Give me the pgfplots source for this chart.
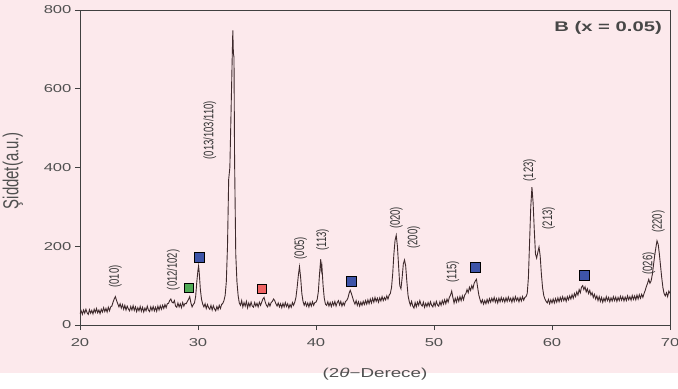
\documentclass[border=0pt]{standalone}
\usepackage{pgfplots}
\pgfplotsset{compat=1.18}
\usepackage{fontspec}
\setmainfont{Liberation Sans}
\setsansfont{Liberation Sans}
\definecolor{trace}{RGB}{62,42,44}
\definecolor{txt}{RGB}{80,80,80}
\definecolor{pinkbg}{RGB}{252,233,236}
\definecolor{sqblue}{RGB}{62,84,168}
\definecolor{sqgreen}{RGB}{80,170,85}
\definecolor{sqred}{RGB}{240,100,100}
\newcommand{\hs}[1]{\scalebox{1.45}[1]{#1}}
\newcommand{\vs}[1]{\scalebox{1}[1.45]{#1}}
\pgfplotstableread{
x y
20.0 28
20.1 36
20.2 27
20.3 38
20.4 30
20.5 40
20.6 31
20.7 27
20.8 39
20.9 30
21.0 37
21.1 28
21.2 40
21.3 32
21.4 42
21.5 31
21.6 38
21.7 29
21.8 40
21.9 33
22.0 44
22.1 34
22.2 42
22.3 33
22.4 45
22.5 36
22.6 46
22.7 48
22.8 58
22.9 66
23.0 72
23.1 62
23.2 54
23.3 46
23.4 54
23.5 43
23.6 52
23.7 40
23.8 50
23.9 38
24.0 48
24.1 41
24.2 36
24.3 47
24.4 38
24.5 49
24.6 37
24.7 46
24.8 34
24.9 44
25.0 36
25.1 47
25.2 35
25.3 45
25.4 33
25.5 43
25.6 36
25.7 48
25.8 38
25.9 34
26.0 46
26.1 37
26.2 47
26.3 36
26.4 45
26.5 35
26.6 48
26.7 38
26.8 49
26.9 40
27.0 50
27.1 42
27.2 52
27.3 44
27.4 54
27.5 55
27.6 62
27.7 66
27.8 58
27.9 56
28.0 62
28.1 48
28.2 45
28.3 56
28.4 46
28.5 54
28.6 44
28.7 57
28.8 48
28.9 55
29.0 54
29.1 60
29.2 65
29.3 72
29.4 56
29.5 46
29.6 52
29.7 56
29.8 72
29.9 110
30.0 140
30.05 150
30.1 135
30.2 90
30.3 65
30.4 53
30.5 46
30.6 54
30.7 42
30.8 52
30.9 44
31.0 40
31.1 50
31.2 38
31.3 49
31.4 41
31.5 36
31.6 47
31.7 39
31.8 50
31.9 42
32.0 52
32.1 55
32.2 62
32.3 75
32.4 110
32.5 200
32.6 370
32.7 400
32.8 540
32.9 680
32.95 748
33.0 690
33.05 680
33.1 420
33.15 300
33.2 180
33.3 110
33.4 75
33.5 56
33.6 50
33.7 62
33.8 46
33.9 57
34.0 48
34.1 60
34.2 44
34.3 56
34.4 47
34.5 58
34.6 48
34.7 45
34.8 57
34.9 48
35.0 55
35.1 46
35.2 58
35.3 50
35.4 58
35.5 66
35.6 70
35.7 58
35.8 50
35.9 46
36.0 56
36.1 48
36.2 57
36.3 60
36.4 66
36.5 62
36.6 54
36.7 48
36.8 56
36.9 46
37.0 54
37.1 44
37.2 55
37.3 46
37.4 57
37.5 47
37.6 54
37.7 43
37.8 52
37.9 45
38.0 57
38.1 50
38.2 58
38.3 70
38.4 95
38.5 125
38.6 148
38.7 120
38.8 80
38.9 60
39.0 50
39.1 58
39.2 48
39.3 56
39.4 46
39.5 57
39.6 48
39.7 59
39.8 50
39.9 57
40.0 58
40.1 65
40.2 85
40.3 130
40.4 167
40.45 140
40.5 150
40.6 100
40.7 68
40.8 53
40.9 50
41.0 59
41.1 48
41.2 57
41.3 47
41.4 58
41.5 50
41.6 60
41.7 48
41.8 57
41.9 62
42.0 51
42.1 60
42.2 48
42.3 57
42.4 50
42.5 60
42.6 62
42.7 68
42.8 80
42.9 88
43.0 80
43.1 70
43.2 60
43.3 53
43.4 62
43.5 50
43.6 59
43.7 48
43.8 58
43.9 50
44.0 60
44.1 52
44.2 62
44.3 53
44.4 64
44.5 54
44.6 66
44.7 56
44.8 68
44.9 58
45.0 70
45.1 60
45.2 68
45.3 58
45.4 69
45.5 61
45.6 72
45.7 62
45.8 70
45.9 64
46.0 74
46.1 66
46.2 76
46.3 80
46.4 95
46.5 130
46.6 180
46.7 215
46.8 228
46.9 200
47.0 150
47.1 100
47.2 92
47.3 120
47.4 155
47.5 165
47.6 150
47.7 110
47.8 75
47.9 60
48.0 50
48.1 60
48.2 48
48.3 43
48.4 57
48.5 46
48.6 58
48.7 50
48.8 62
48.9 52
49.0 48
49.1 58
49.2 45
49.3 55
49.4 47
49.5 57
49.6 48
49.7 59
49.8 50
49.9 46
50.0 57
50.1 48
50.2 60
50.3 51
50.4 48
50.5 59
50.6 50
50.7 62
50.8 53
50.9 64
51.0 54
51.1 66
51.2 58
51.3 70
51.4 76
51.5 86
51.6 70
51.7 56
51.8 68
51.9 58
52.0 70
52.1 60
52.2 72
52.3 62
52.4 74
52.5 64
52.6 76
52.7 80
52.8 90
52.9 82
53.0 96
53.1 88
53.2 100
53.3 92
53.4 106
53.5 112
53.6 116
53.7 95
53.8 76
53.9 65
54.0 56
54.1 64
54.2 53
54.3 62
54.4 54
54.5 65
54.6 56
54.7 67
54.8 58
54.9 68
55.0 60
55.1 70
55.2 58
55.3 67
55.4 56
55.5 68
55.6 59
55.7 70
55.8 60
55.9 68
56.0 58
56.1 69
56.2 60
56.3 71
56.4 61
56.5 68
56.6 58
56.7 70
56.8 60
56.9 72
57.0 62
57.1 69
57.2 59
57.3 70
57.4 61
57.5 72
57.6 63
57.7 70
57.8 72
57.9 80
58.0 120
58.1 210
58.2 300
58.3 350
58.35 330
58.4 310
58.5 240
58.6 180
58.7 170
58.8 185
58.9 198
59.0 175
59.1 130
59.2 95
59.3 75
59.4 66
59.5 60
59.6 56
59.7 65
59.8 54
59.9 64
60.0 56
60.1 66
60.2 56
60.3 67
60.4 58
60.5 69
60.6 59
60.7 70
60.8 61
60.9 72
61.0 62
61.1 70
61.2 60
61.3 72
61.4 64
61.5 74
61.6 66
61.7 77
61.8 68
61.9 80
62.0 72
62.1 84
62.2 76
62.3 90
62.4 82
62.5 96
62.6 100
62.7 90
62.8 97
62.9 84
63.0 92
63.1 80
63.2 88
63.3 76
63.4 82
63.5 70
63.6 78
63.7 66
63.8 74
63.9 62
64.0 72
64.1 60
64.2 70
64.3 58
64.4 68
64.5 60
64.6 72
64.7 62
64.8 70
64.9 59
65.0 69
65.1 61
65.2 72
65.3 62
65.4 71
65.5 60
65.6 70
65.7 62
65.8 73
65.9 63
66.0 72
66.1 61
66.2 71
66.3 62
66.4 74
66.5 64
66.6 72
66.7 63
66.8 75
66.9 65
67.0 74
67.1 64
67.2 76
67.3 66
67.4 77
67.5 68
67.6 78
67.7 70
67.8 80
67.9 88
68.0 98
68.1 106
68.2 116
68.3 106
68.4 112
68.5 128
68.6 152
68.7 176
68.8 196
68.9 214
69.0 205
69.1 180
69.2 150
69.3 120
69.4 95
69.5 80
69.6 74
69.7 82
69.8 72
69.9 86
70.0 80
}\xrd
\begin{document}
\begin{tikzpicture}
\fill[pinkbg] (-80bp,-48bp) rectangle (598bp,325bp);
\begin{axis}[
  at={(0,0)}, anchor=south west,
  scale only axis, width=590bp, height=315bp,
  xmin=20, xmax=70, ymin=0, ymax=800,
  xtick={20,30,40,50,60,70}, ytick={0,200,400,600,800},
  tick align=outside, tick pos=left,
  major tick length=5bp,
  axis line style={draw=black!75, line width=0.7pt},
  tick style={draw=black!75, line width=0.7pt},
  tick label style={font=\fontsize{11.5}{13}\selectfont, text=txt},
  xticklabel={\hs{\pgfmathprintnumber[assume math mode=true]{\tick}}},
  yticklabel={\hs{\pgfmathprintnumber[assume math mode=true]{\tick}}},
  yticklabel style={xshift=0bp},
  xticklabel style={yshift=-5bp},
  xlabel={\hs{(2\textit{θ}−Derece)}},
  ylabel={\vs{Şiddet(a.u.)}},
  label style={font=\fontsize{13}{15}\selectfont, text=txt},
  xlabel style={at={(axis description cs:0.5,-0.155)}, anchor=center},
  ylabel style={font=\fontsize{15}{17}\selectfont, inner sep=0pt, at={(axis description cs:-0.114,0.49)}, anchor=center},
]
\addplot[trace, line width=0.9pt] table[x=x,y=y] {\xrd};
\addplot[only marks, mark=square*, mark size=5bp, mark options={draw=none, fill=sqblue}] coordinates {(30.1,171) (43.0,112) (53.5,146) (62.7,126)};
\addplot[only marks, mark=square*, mark size=4.5bp, mark options={draw=none, fill=sqgreen}] coordinates {(29.2,96)};
\addplot[only marks, mark=square*, mark size=4.5bp, mark options={draw=none, fill=sqred}] coordinates {(35.4,93)};
\begin{scope}[every node/.style={rotate=90, font=\fontsize{9.5}{10}\selectfont, text=black!80, inner sep=0pt}]
\node at (axis cs:23.0,123) {\vs{(010)}};
\node at (axis cs:27.9,140) {\vs{(012/102)}};
\node at (axis cs:31.0,495) {\vs{(013/103/110)}};
\node at (axis cs:38.7,195) {\vs{(005)}};
\node at (axis cs:40.55,216) {\vs{(113)}};
\node at (axis cs:46.8,272) {\vs{(020)}};
\node at (axis cs:48.3,222) {\vs{(200)}};
\node at (axis cs:51.6,135) {\vs{(115)}};
\node at (axis cs:58.1,393) {\vs{(123)}};
\node at (axis cs:59.7,271) {\vs{(213)}};
\node at (axis cs:68.2,156) {\vs{(026)}};
\node at (axis cs:69.0,262) {\vs{(220)}};
\end{scope}
\node[anchor=east, font=\fontsize{14}{16}\selectfont\bfseries, text=black!72] at (rel axis cs:0.992,0.943) {\hs{B (x = 0.05)}};
\end{axis}
\pgfresetboundingbox
\useasboundingbox (-80bp,-64bp) rectangle (598bp,325bp);
\end{tikzpicture}
\end{document}
